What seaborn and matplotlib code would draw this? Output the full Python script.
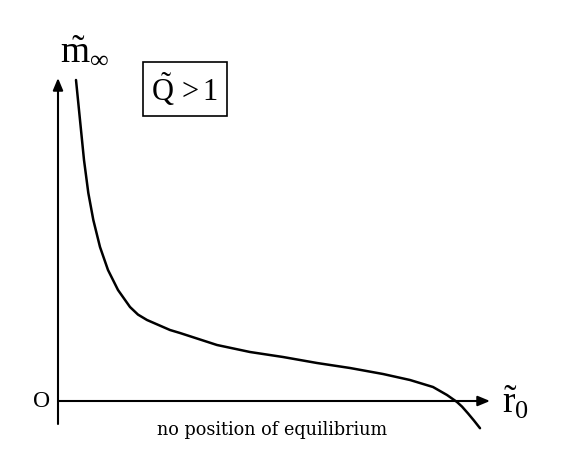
import matplotlib
matplotlib.use("Agg")
import matplotlib.pyplot as plt
import seaborn as sns
import pandas as pd

# curve (arbitrary units, origin at the axes crossing)
r0 = [0.45, 0.55, 0.65, 0.758, 0.883, 1.05, 1.25, 1.5, 1.8, 2.0, 2.225, 2.8,
      3.05, 3.975, 4.8, 5.625, 6.475, 7.3, 8.125, 8.8, 9.375, 9.725,
      9.975, 10.1, 10.25, 10.4, 10.55]
m_inf = [8.025, 7.025, 6.025, 5.2, 4.525, 3.85, 3.275, 2.775, 2.35, 2.16, 2.025,
         1.775, 1.7, 1.4, 1.225, 1.1, 0.95, 0.825, 0.675, 0.525, 0.35, 0.15,
         -0.025, -0.14, -0.31, -0.49, -0.68]

x_axis_end = 10.8
y_axis_top = 8.075
y_axis_bottom = -0.575

sns.set_theme(style="white")
plt.rcParams["font.family"] = ["Liberation Serif", "DejaVu Serif"]
plt.rcParams["text.color"] = "black"
plt.rcParams["mathtext.fontset"] = "custom"
plt.rcParams["mathtext.rm"] = "Liberation Serif"
plt.rcParams["mathtext.it"] = "Liberation Serif:italic"

fig = plt.figure(figsize=(5.71, 4.73), dpi=100)
ax = fig.add_axes([0, 0, 1, 1])
ax.set_xlim(-1.45, 12.825)
ax.set_ylim(-1.8, 10.025)
ax.axis("off")

df = pd.DataFrame({"r0": r0, "m": m_inf})
sns.lineplot(data=df, x="r0", y="m", color="black", linewidth=1.8, sort=False,
             solid_joinstyle="round", ax=ax)

arrow = dict(arrowstyle="-|>,head_length=0.6,head_width=0.25", color="black",
             lw=1.5, shrinkA=0, shrinkB=0)
ax.annotate("", xy=(x_axis_end, 0), xytext=(0, 0), arrowprops=arrow)
ax.annotate("", xy=(0, y_axis_top), xytext=(0, y_axis_bottom), arrowprops=arrow)

ax.text(-0.2, 0, "O", fontsize=17, ha="right", va="center")
ax.text(11.1, -0.05, r"$\tilde{\mathrm{r}}_{0}$", fontsize=27, ha="left", va="center")
ax.text(0.05, 8.75, r"$\tilde{\mathrm{m}}_{\infty}$", fontsize=27, ha="left", va="center")
ax.text(3.175, 7.8, r"$\tilde{\mathrm{Q}}\,>1$", fontsize=22, ha="center", va="center",
        bbox=dict(boxstyle="square,pad=0.28", fc="white", ec="black", lw=1.2))
ax.text(5.35, -0.72, "no position of equilibrium", family="DejaVu Serif",
        fontsize=12.7, ha="center", va="center")

fig.savefig("out.png", dpi=100)
